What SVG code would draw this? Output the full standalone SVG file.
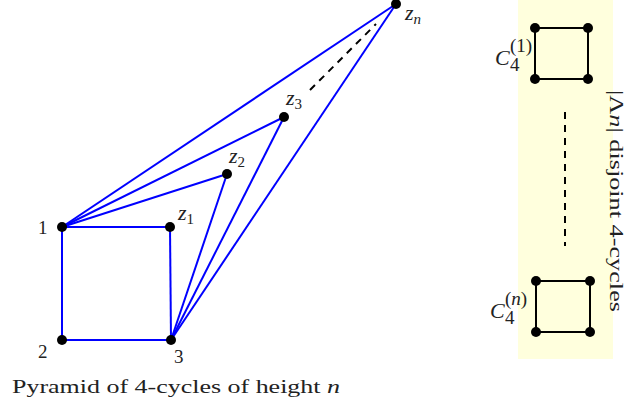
<svg xmlns="http://www.w3.org/2000/svg" width="632" height="408" viewBox="0 0 632 408">
<style>
.e{stroke:#0000ff;stroke-width:2;fill:none}
.k{stroke:#000;stroke-width:2;fill:none}
.d{stroke:#000;stroke-width:2;stroke-dasharray:7,6;fill:none}
.t{font-family:'Liberation Serif','Times New Roman',serif;font-size:19px;fill:#222}
.z{font-family:'Liberation Serif','Times New Roman',serif;font-size:22px;font-style:italic;fill:#222}
</style>
<rect x="518" y="0" width="95" height="359" fill="#ffffdd"/>
<g id="connectors">
<line class="e" x1="62" y1="227" x2="62" y2="340"/>
<line class="e" x1="62" y1="340" x2="171" y2="340"/>
<line class="e" x1="62" y1="227" x2="170" y2="227"/>
<line class="e" x1="170" y1="227" x2="171" y2="340"/>
<line class="e" x1="62" y1="227" x2="227" y2="174"/>
<line class="e" x1="62" y1="227" x2="284" y2="117"/>
<line class="e" x1="62" y1="227" x2="396" y2="4"/>
<line class="e" x1="171" y1="340" x2="227" y2="174"/>
<line class="e" x1="171" y1="340" x2="284" y2="117"/>
<line class="e" x1="171" y1="340" x2="396" y2="4"/>
<line class="d" x1="310" y1="90" x2="376" y2="24"/>
<rect class="k" x="535" y="28" width="53" height="51"/>
<rect class="k" x="536" y="281" width="54" height="51"/>
<line class="d" x1="565" y1="112" x2="565" y2="246"/>
</g>
<g id="n1"><circle cx="62" cy="227" r="5"/><text class="t" x="38" y="234">1</text></g>
<g id="n2"><circle cx="62" cy="340" r="5"/><text class="t" x="38" y="358">2</text></g>
<g id="n3"><circle cx="171" cy="340" r="5"/><text class="t" x="174" y="363">3</text></g>
<g id="z1"><circle cx="170" cy="227" r="5"/><text class="z" x="178" y="220">z<tspan font-size="15" dy="4" font-style="normal">1</tspan></text></g>
<g id="z2"><circle cx="227" cy="174" r="5"/><text class="z" x="229" y="163">z<tspan font-size="15" dy="4" font-style="normal">2</tspan></text></g>
<g id="z3"><circle cx="284" cy="117" r="5"/><text class="z" x="286" y="105">z<tspan font-size="15" dy="4" font-style="normal">3</tspan></text></g>
<g id="zn"><circle cx="396" cy="4" r="5"/><text class="z" x="405" y="20">z<tspan font-size="15" dy="4">n</tspan></text></g>
<g id="c1">
<circle cx="535" cy="28" r="5"/><circle cx="588" cy="28" r="5"/><circle cx="535" cy="79" r="5"/><circle cx="588" cy="79" r="5"/>
<text class="z" font-size="20" x="495" y="65">C</text><text class="t" font-size="12" x="510" y="71">4</text><text class="t" font-size="12" x="510" y="52">(1)</text>
</g>
<g id="cn">
<circle cx="536" cy="281" r="5"/><circle cx="590" cy="281" r="5"/><circle cx="536" cy="332" r="5"/><circle cx="590" cy="332" r="5"/>
<text class="z" font-size="20" x="490" y="318">C</text><text class="t" font-size="12" x="505" y="324">4</text><text class="t" font-size="12" x="505" y="305">(<tspan font-style="italic">n</tspan>)</text>
</g>
<text class="t" font-size="22" transform="translate(610,201) rotate(90)" text-anchor="middle" textLength="222" lengthAdjust="spacingAndGlyphs">|Λ<tspan font-style="italic">n</tspan>| disjoint 4-cycles</text>
<text class="t" font-size="22" x="12" y="393" textLength="328" lengthAdjust="spacingAndGlyphs">Pyramid of 4-cycles of height <tspan font-style="italic">n</tspan></text>
</svg>
